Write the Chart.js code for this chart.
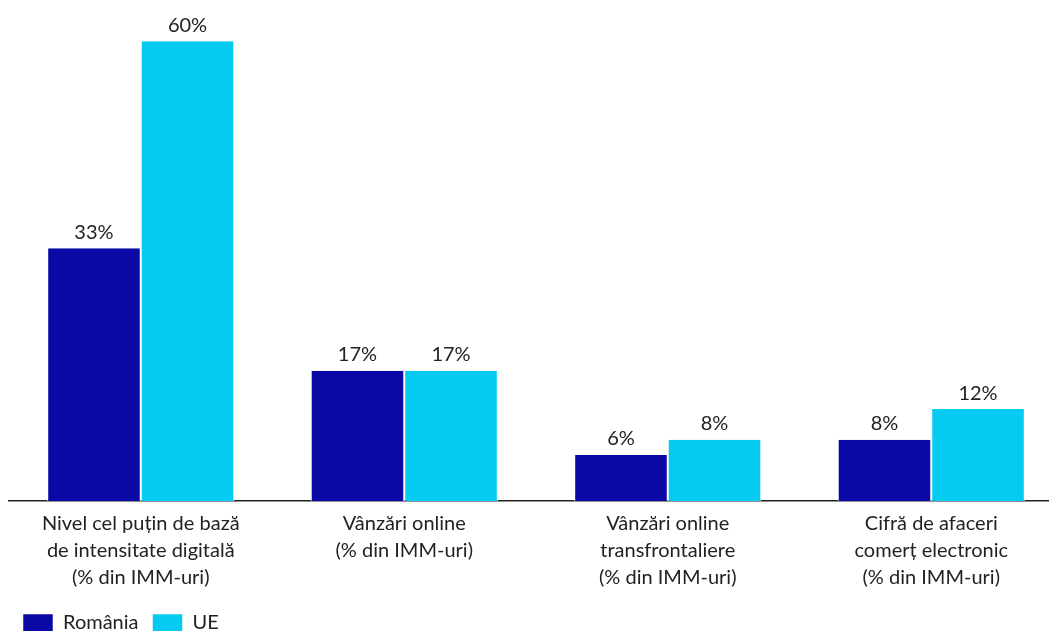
<!DOCTYPE html>
<html>
<head>
<meta charset="utf-8">
<script src="https://cdn.jsdelivr.net/npm/chart.js@4"></script>
<style>
  html, body { margin: 0; padding: 0; background: #fff; overflow: hidden; }
  #wrap { width: 1070px; height: 643px; }
</style>
</head>
<body>
<div id="wrap"><canvas id="barChart"></canvas></div>
<script>
/* Digital intensity — România vs UE */

const CATEGORIES = [
  ["Nivel cel puțin de bază", "de intensitate digitală", "(% din IMM-uri)"],
  ["Vânzări online", "(% din IMM-uri)"],
  ["Vânzări online", "transfrontaliere", "(% din IMM-uri)"],
  ["Cifră de afaceri", "comerț electronic", "(% din IMM-uri)"],
];
const ROMANIA = [33, 17, 6, 8];
const UE = [60, 17, 8, 12];

const FONT = "Lato";

/**
 * Draw the value labels above each bar.
 */
const valueLabels = {
  id: "valueLabels",
  afterDatasetsDraw(chart) {
    const ctx = chart.ctx;
    ctx.save();
    ctx.font = `20px ${FONT}`;
    ctx.fillStyle = "#222";
    ctx.textAlign = "center";
    ctx.textBaseline = "bottom";
    chart.data.datasets.forEach((ds, i) => {
      chart.getDatasetMeta(i).data.forEach((bar, j) => {
        ctx.fillText(ds.data[j] + "%", bar.x, bar.y - 6);
      });
    });
    ctx.restore();
  },
};

new Chart(document.getElementById("barChart"), {
  type: "bar",
  data: {
    labels: CATEGORIES,
    datasets: [
      {
        label: "România",
        data: ROMANIA,
        backgroundColor: "#0A09A5",
        borderColor: "#ffffff",
        borderWidth: { left: 1, right: 1 },
        borderSkipped: false,
      },
      {
        label: "UE",
        data: UE,
        backgroundColor: "#05CAF2",
        borderColor: "#ffffff",
        borderWidth: { left: 1, right: 1 },
        borderSkipped: false,
      },
    ],
  },
  options: {
    responsive: true,
    maintainAspectRatio: false,
    animation: false,
    layout: { padding: { left: 9, right: 7, top: 0, bottom: 0 } },
    datasets: { bar: { categoryPercentage: 0.71, barPercentage: 1 } },
    plugins: {
      tooltip: { enabled: false },
      legend: {
        position: "bottom",
        align: "start",
        labels: {
          color: "#222",
          font: { size: 20, family: FONT },
          boxWidth: 30,
          boxHeight: 18,
          padding: 14,
        },
      },
    },
    scales: {
      x: {
        grid: { display: false },
        border: { display: true, color: "#222", width: 1.5 },
        ticks: {
          color: "#222",
          font: { size: 20, family: FONT, lineHeight: 1.35 },
          padding: 1,
          maxRotation: 0,
          autoSkip: false,
        },
        // leave a little more room between the labels and the legend
        afterFit(scale) {
          scale.height += 7;
        },
      },
      y: {
        display: false,
        min: 0,
        max: 65.4,
      },
    },
  },
  plugins: [valueLabels],
});
</script>
</body>
</html>
